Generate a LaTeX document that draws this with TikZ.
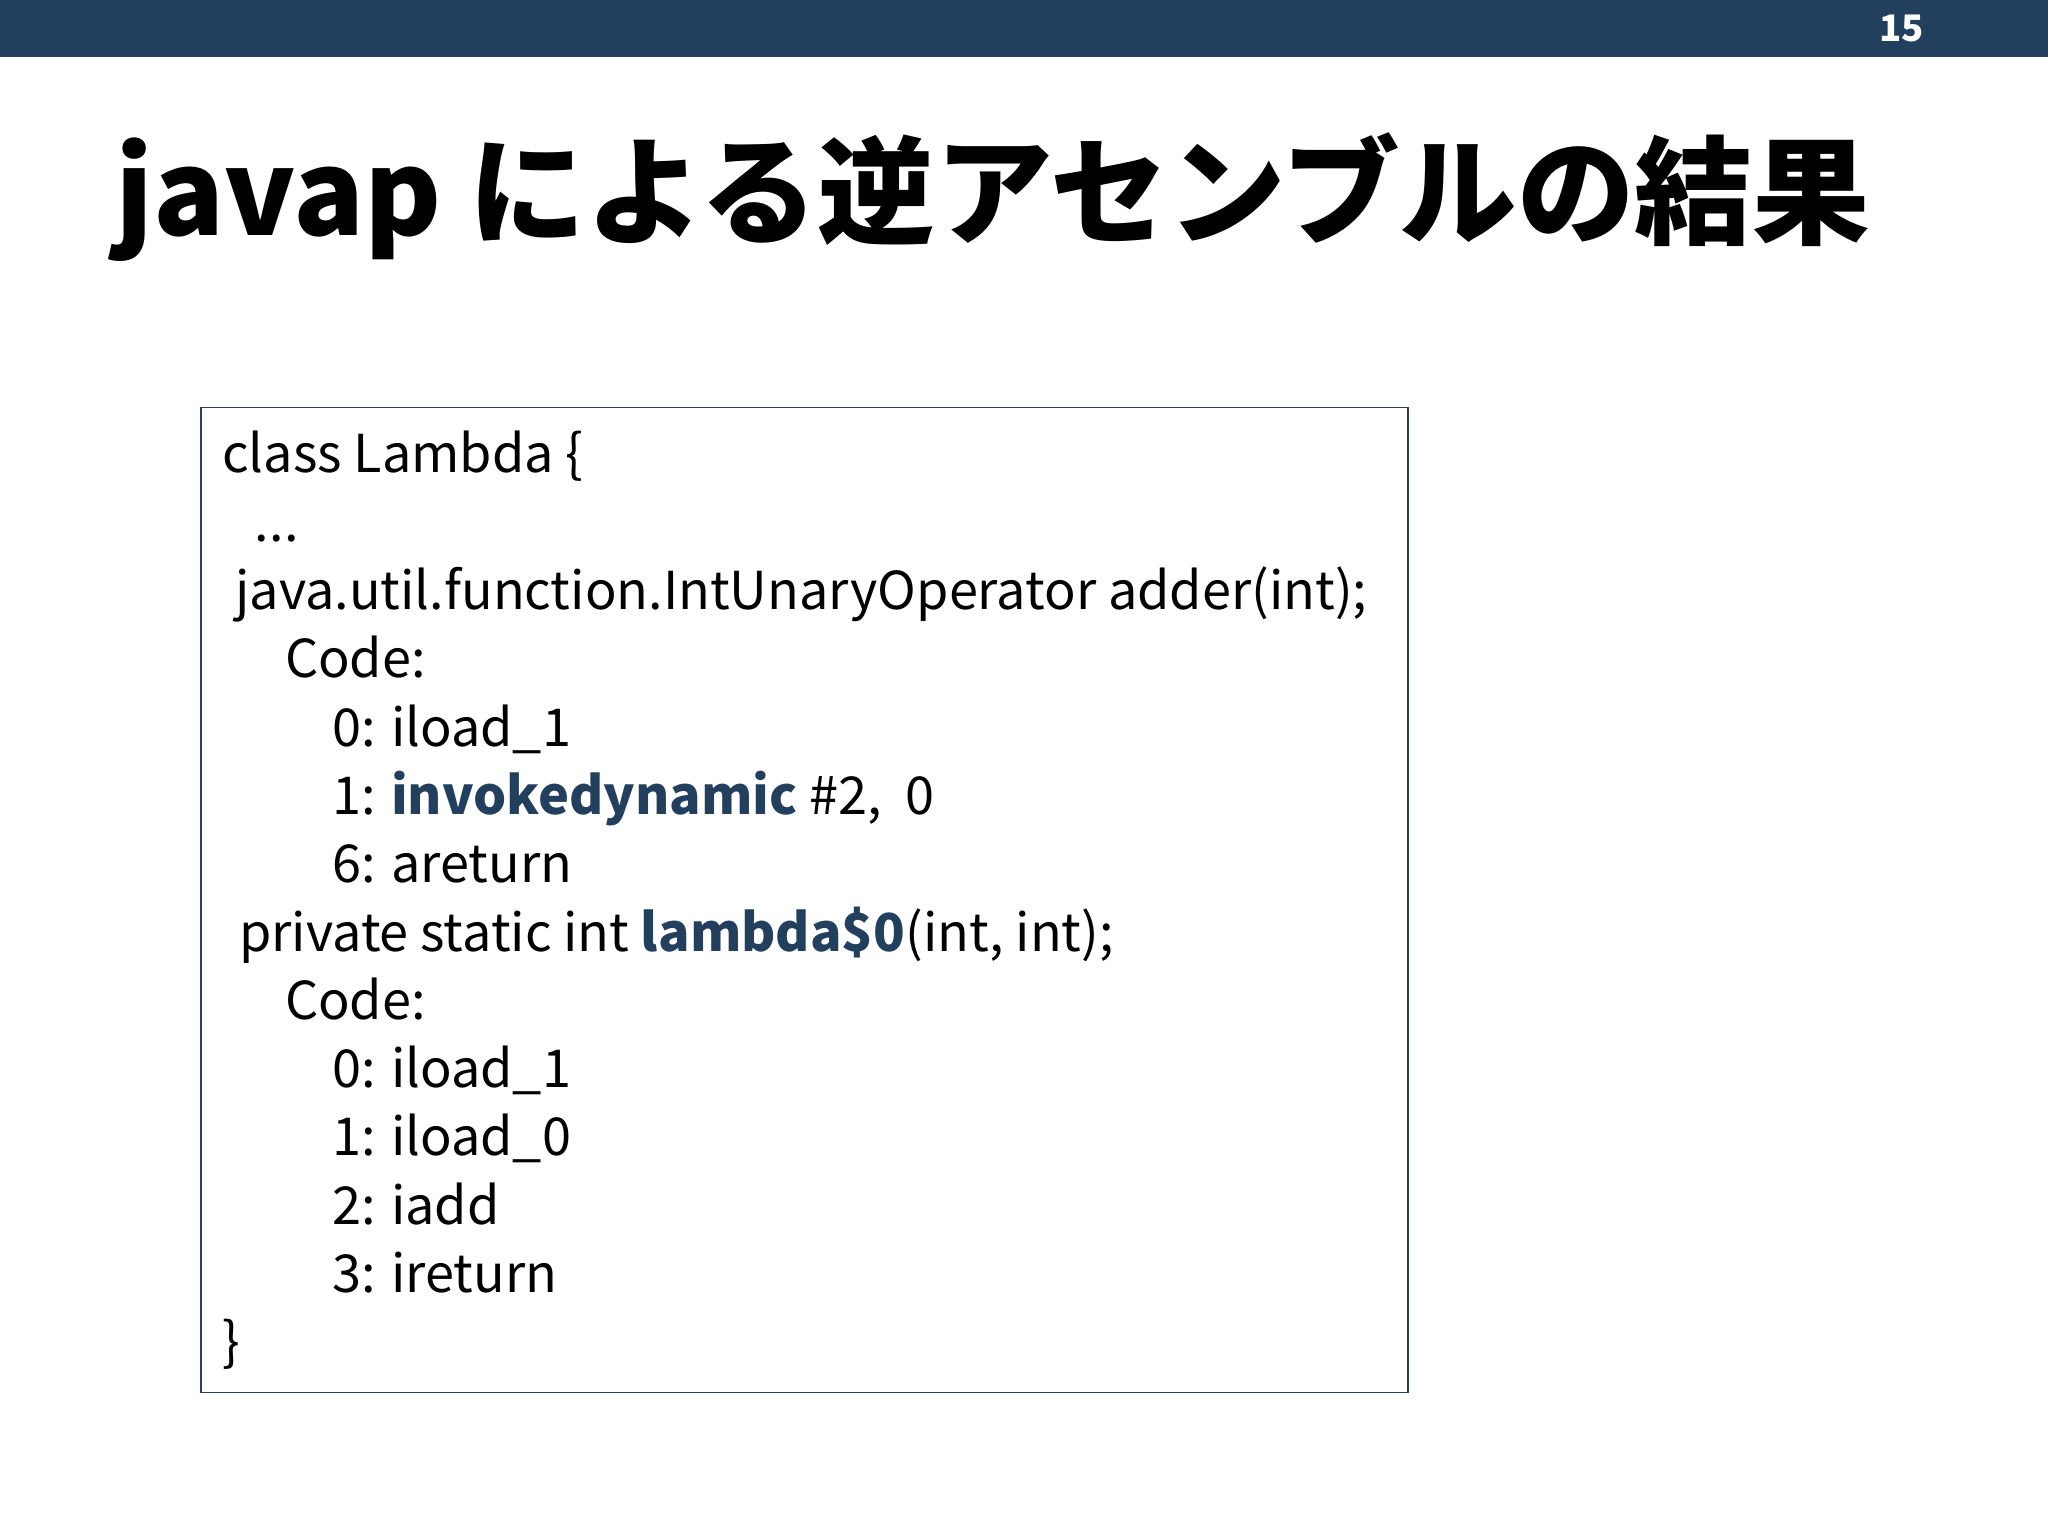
\documentclass[tikz,border=0pt]{standalone}
\usepackage{fontspec}
\setmainfont{Noto Sans CJK JP}
\definecolor{navy}{HTML}{22405E}
\begin{document}
\begin{tikzpicture}[x=1pt,y=-1pt,
  code/.style={anchor=base west,inner sep=0pt,font=\fontsize{40}{48}\selectfont}]
\useasboundingbox (0,0) rectangle (1568,1176);
\fill[navy] (0,0) rectangle (1568,44);
\node[text=white,font=\fontsize{28}{32}\bfseries\selectfont] (pg) at (1456,22) {15};
\node[anchor=base west,inner sep=0pt,font=\fontsize{90}{100}\bfseries\selectfont] (title) at (88,180) {javap による逆アセンブルの結果};
\draw[navy,line width=1.2pt] (154,312) rectangle (1078,1066);
\def\ls{52.3}
\node[code] (l1) at (170,362) {class Lambda \{};
\node[code] (l2) at (195,362+\ls) {...};
\node[code] (l3) at (180,362+2*\ls) {java.util.function.IntUnaryOperator adder(int);};
\node[code] (l4) at (218,362+3*\ls) {Code:};
\node[code] (l5) at (254,362+4*\ls) {0: iload\_1};
\node[code] (l6) at (254,362+5*\ls) {1: \textbf{\color{navy}invokedynamic} \#2,\ \ 0};
\node[code] (l7) at (254,362+6*\ls) {6: areturn};
\node[code] (l8) at (183,362+7*\ls) {private static int \textbf{\color{navy}lambda\$0}(int, int);};
\node[code] (l9) at (218,362+8*\ls) {Code:};
\node[code] (l10) at (254,362+9*\ls) {0: iload\_1};
\node[code] (l11) at (254,362+10*\ls) {1: iload\_0};
\node[code] (l12) at (254,362+11*\ls) {2: iadd};
\node[code] (l13) at (254,362+12*\ls) {3: ireturn};
\node[code] (l14) at (170,362+13*\ls) {\}};
\end{tikzpicture}
\end{document}
